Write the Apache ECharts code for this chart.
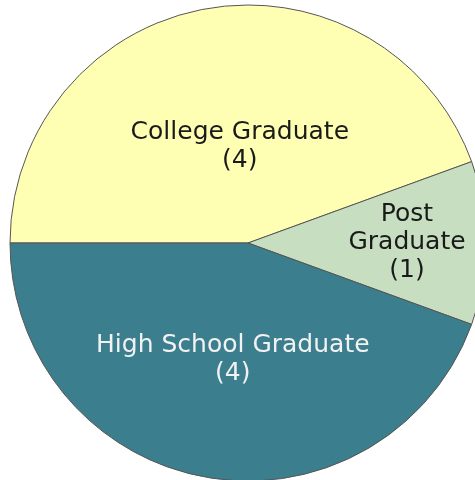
<!DOCTYPE html>
<html>
<head>
<meta charset="utf-8">
<script src="https://cdn.jsdelivr.net/npm/echarts@6/dist/echarts.min.js"></script>
<style>
  html, body { margin: 0; padding: 0; background: #fff; }
  #chart { width: 475px; height: 480px; }
</style>
</head>
<body>
<div id="chart"></div>
<script>
// slice data, clockwise from 9 o'clock
const categories = ["College Graduate", "Post Graduate", "High School Graduate"];
const labelNames = ["College Graduate", "Post\nGraduate", "High School Graduate"];
const counts = [4, 1, 4];
const colors = ["#ffffb4", "#c7dec1", "#3b7e8e"];
const textColors = ["#1a1a1a", "#1a1a1a", "#f2f2f2"];
const labelOffsets = [[13, 24], [37, -1], [6, -4]];

const chart = echarts.init(document.getElementById("chart"));

chart.setOption({
  animation: false,
  series: [
    {
      type: "pie",
      center: [248, 243],
      radius: 238,
      startAngle: 180,
      clockwise: true,
      label: {
        show: true,
        position: "inside",
        fontFamily: "DejaVu Sans",
        fontSize: 25,
        lineHeight: 28,
        align: "center",
      },
      labelLine: { show: false },
      itemStyle: { borderColor: "#555", borderWidth: 1 },
      emphasis: { disabled: true },
      data: categories.map((name, i) => ({
        name: name,
        value: counts[i],
        itemStyle: { color: colors[i] },
        label: {
          color: textColors[i],
          offset: labelOffsets[i],
          formatter: labelNames[i] + "\n(" + counts[i] + ")",
        },
      })),
    },
  ],
});
</script>
</body>
</html>
